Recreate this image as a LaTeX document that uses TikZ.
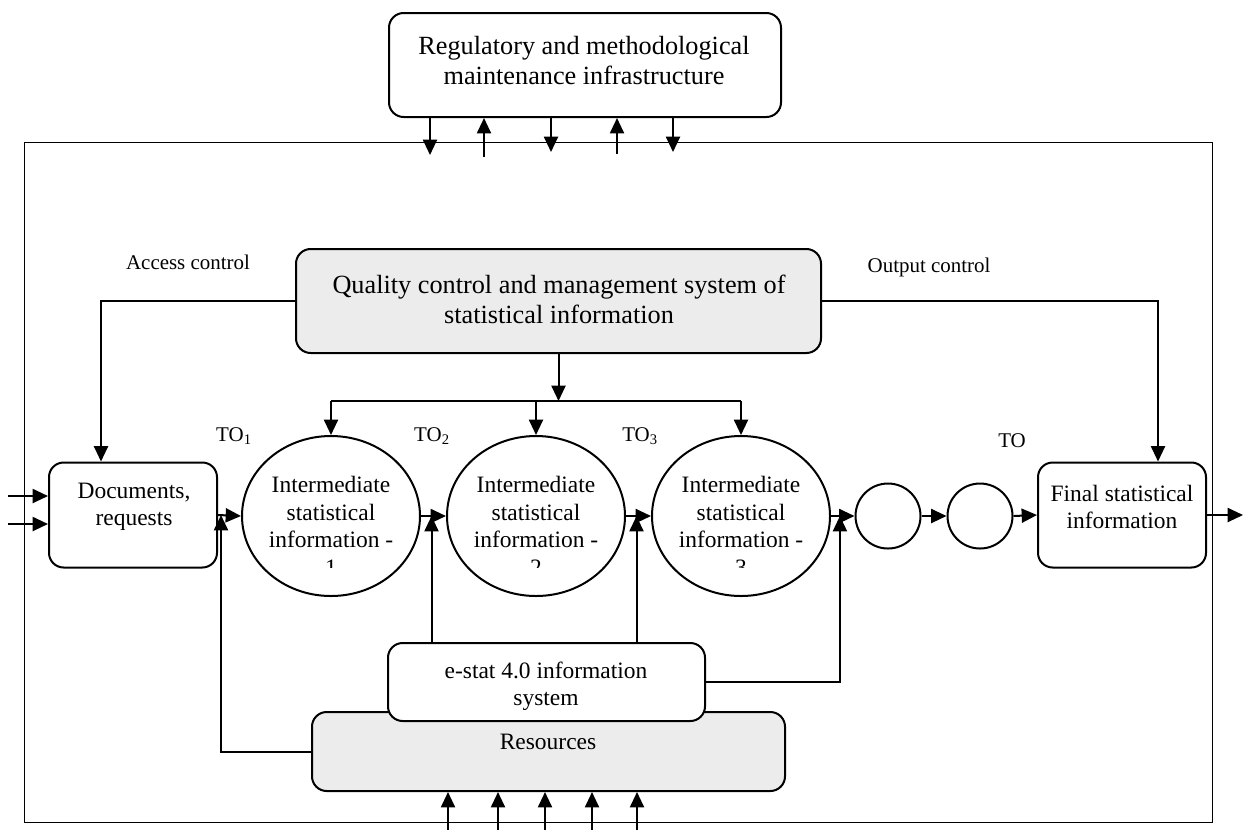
\documentclass[tikz,border=0pt]{standalone}
\usepackage{fontspec}
\setmainfont{Liberation Serif}
\usetikzlibrary{arrows.meta}
\usetikzlibrary{calc}
\usetikzlibrary{shapes.geometric}

\tikzset{
  arr/.style={line width=1.5pt,-{Triangle[length=11.5pt,width=10.5pt]}},
  ln/.style={line width=1.5pt},
  rbox/.style={draw,line width=1.5pt,rounded corners=11pt,fill=white,inner sep=0pt},
  gbox/.style={rbox,fill={rgb,255:red,236;green,236;blue,236}},
  ell/.style={draw,line width=1.5pt,ellipse,inner sep=0pt,minimum width=133.5pt,minimum height=120pt},
  ring/.style={draw,line width=1.5pt,circle,inner sep=0pt,minimum size=48.75pt},
  txt/.style={align=center,inner sep=0pt,font=\fontsize{17.6}{20.6}\selectfont},
  big/.style={align=center,inner sep=0pt,font=\fontsize{19.7}{22.5}\selectfont},
  lbl/.style={inner sep=0pt,font=\fontsize{15.7}{18}\selectfont},
}

\begin{document}
\begin{tikzpicture}[x=0.75pt,y=0.75pt,yscale=-1,xscale=1]
\useasboundingbox (0,0) rectangle (1244,833);

%Outer frame
\draw [line width=0.7pt] (24,142) rectangle (1212,822);

%Rounded Rect
\node [rbox,minimum width=294pt,minimum height=78pt] (reg) at (585,65) {};
%Rounded Rect
\node [gbox,minimum width=393.75pt,minimum height=78pt] (qual) at (558.5,301) {};
%Rounded Rect
\node [rbox,minimum width=126pt,minimum height=78.75pt] (docs) at (133,515) {};
%Rounded Rect
\node [rbox,minimum width=126pt,minimum height=78.75pt] (fin) at (1122,515) {};
%Shape: Ellipse
\node [ell] (e1) at (331,516) {};
\node [ell] (e2) at (536,516) {};
\node [ell] (e3) at (741,516) {};
%Shape: Circle
\node [ring] (c1) at (888,516) {};
\node [ring] (c2) at (980,516) {};
%Rounded Rect
\node [gbox,minimum width=354.75pt,minimum height=59.25pt] (res) at (548.5,751.5) {};
%Rounded Rect
\node [rbox,minimum width=237.75pt,minimum height=58.5pt] (estat) at (546.5,682) {};

%Straight Lines
\foreach \x/\y in {430/155,551/152,673/152}
  \draw [arr] (reg.south -| \x,0) -- (\x,\y);
\foreach \x/\y in {484/157,617/154}
  \draw [arr] (\x,\y) -- (reg.south -| \x,0);
\foreach \x in {448,498,545,592,637}
  \draw [arr] (\x,830) -- (res.south -| \x,0);

%Straight Lines
\draw [arr] (8,496) -- (8,496 -| docs.west);
\draw [arr] (8,524) -- (8,524 -| docs.west);
\draw [arr] (qual.west) -| ($(docs.north)+(-32,0)$);
\draw [arr] (qual.east) -| ($(fin.north)+(36,0)$);
\coordinate (split) at (qual.south |- 0,401);
\draw [arr] (qual.south) -- (split);
\draw [ln] (e1.north |- split) -- (e3.north |- split);
\foreach \i in {1,2,3}
  \draw [arr] (e\i.north |- split) -- (e\i.north);

%Straight Lines
\draw [arr] (docs.east) -- (e1.west);
\draw [arr] (e1.east) -- (e2.west);
\draw [arr] (e2.east) -- (e3.west);
\draw [arr] (e3.east) -- (c1.west);
\draw [arr] (c1.east) -- (c2.west);
\draw [arr] (c2.east) -- (fin.west);
\coordinate (out) at (1243,515);
\draw [arr] (fin.east) -- (out);

%Straight Lines
\coordinate (j0) at ($(docs.east)+(3,0)$);
\coordinate (j1) at ($(e1.east)!0.42!(e2.west)$);
\coordinate (j2) at ($(e2.east)!0.42!(e3.west)$);
\coordinate (j3) at ($(e3.east)!0.38!(c1.west)$);
\draw [arr] (res.west) -| (j0);
\draw [arr] (estat.north -| j1) -- (j1);
\draw [arr] (estat.north -| j2) -- (j2);
\draw [arr] (estat.east) -| (j3);

% Text Node
\node [big] (regT) at (584,61) {Regulatory and methodological\\maintenance infrastructure};
% Text Node
\node [big] (qualT) at (559,299) {Quality control and management system of\\statistical information};
% Text Node
\node [txt] (docsT) at (134,507) {Documents,\\requests};
% Text Node
\node [txt] (finT) at (1122,507) {Final statistical\\information};
% Text Node
\node [txt] (estatT) at (546,686) {e-stat 4.0 information\\system};
% Text Node
\node [txt] (resT) at (548,742) {Resources};
% Text Node
\begin{scope}
\clip (230,420) rectangle (850,567);
\foreach \i in {1,2,3}
  \node [txt] (t\i) at ($(e\i)+(0,10)$) {Intermediate\\statistical\\information -\\\i};
\end{scope}
% Text Node
\node [lbl] (acc) at (188,262) {Access control};
\node [lbl] (outc) at (929,267) {Output control};
\node [lbl] (to1) at (234,436) {TO\textsubscript{1}};
\node [lbl] (to2) at (432,436) {TO\textsubscript{2}};
\node [lbl] (to3) at (640,436) {TO\textsubscript{3}};
\node [lbl] (to) at (1012,441) {TO};

\end{tikzpicture}
\end{document}
